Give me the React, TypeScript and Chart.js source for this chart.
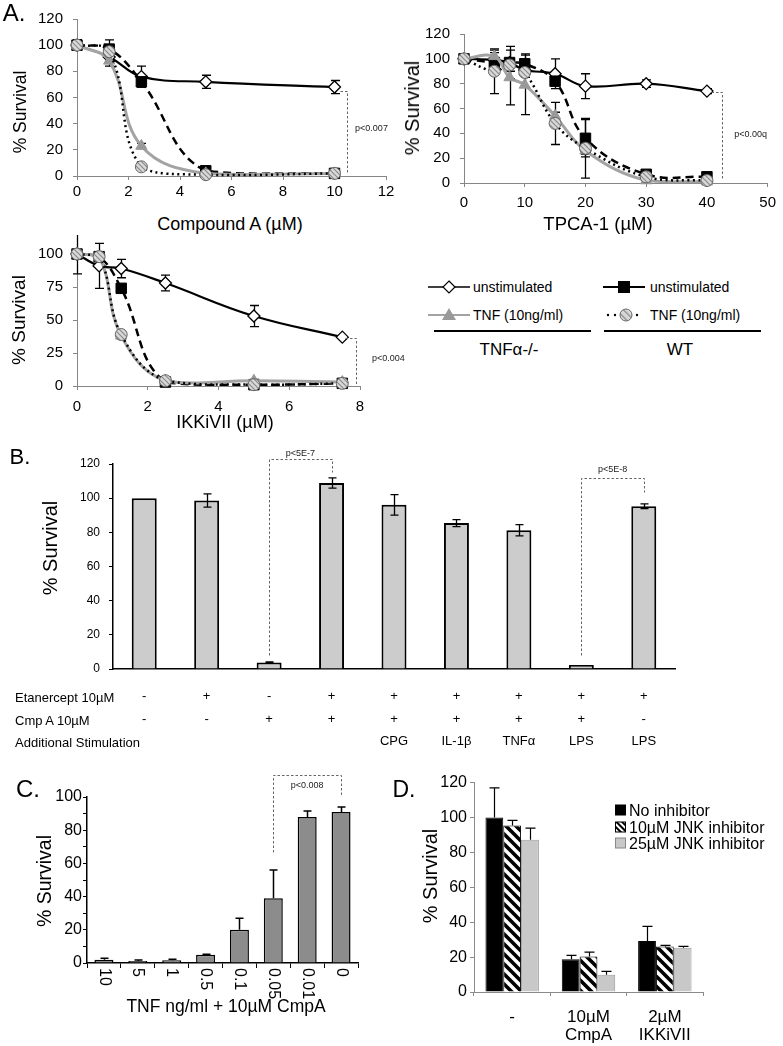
import React, { useEffect, useRef } from 'react';
import { Chart, registerables } from 'chart.js';

Chart.register(...registerables);

const FONT = "'Liberation Sans', Arial, Helvetica, sans-serif";
Chart.defaults.font.family = FONT;
Chart.defaults.color = '#000';

// ===== Panel A1: Compound A =====
const A1_DOSE = [0, 1.25, 2.5, 5, 10];
const A1_KO_UNSTIM = [100, 91, 76, 72, 68];
const A1_KO_UNSTIM_SD = [4, 3, 8, 5, 5];
const A1_KO_TNF = [100, 88, 23, 2, 2];
const A1_KO_TNF_SD = [3, 4, 2, 1, 1];
const A1_WT_UNSTIM = [100, 97, 72, 4, 2];
const A1_WT_UNSTIM_SD = [4, 7, 4, 1, 1];
const A1_WT_TNF = [100, 95, 7, 1, 2];
const A1_WT_TNF_SD = [3, 3, 2, 1, 1];

// ===== Panel A2: TPCA-1 =====
const A2_DOSE = [0, 5, 7.5, 10, 15, 20, 30, 40];
const A2_KO_UNSTIM = [100, 99, 97, 91, 88, 78, 80, 74];
const A2_KO_UNSTIM_SD = [2, 2, 3, 3, 12, 10, 3, 2];
const A2_KO_TNF = [100, 102, 85, 79, 54, 26, 2, 1];
const A2_KO_TNF_SD = [2, 3, 22, 24, 3, 3, 1, 1];
const A2_WT_UNSTIM = [100, 97, 97, 96, 82, 36, 7, 5];
const A2_WT_UNSTIM_SD = [2, 10, 13, 8, 3, 15, 2, 1];
const A2_WT_TNF = [100, 90, 95, 89, 48, 28, 5, 2];
const A2_WT_TNF_SD = [2, 18, 5, 4, 17, 24, 1, 1];

// ===== Panel A3: IKKiVII =====
const A3_DOSE = [0, 0.625, 1.25, 2.5, 5, 7.5];
const A3_KO_UNSTIM = [100, 91, 89, 78, 53, 37];
const A3_KO_UNSTIM_SD = [0, 17, 7, 6, 8, 1];
const A3_KO_TNF = [100, 98, 38, 4, 4, 3];
const A3_KO_TNF_SD = [2, 2, 2, 1, 1, 1];
const A3_WT_UNSTIM = [100, 98, 74, 3, 1, 2];
const A3_WT_UNSTIM_SD = [15, 2, 2, 1, 1, 1];
const A3_WT_TNF = [100, 98, 39, 4, 1, 2];
const A3_WT_TNF_SD = [2, 2, 2, 1, 1, 1];

// ===== Panel B =====
const B_SURVIVAL = [100, 98.6, 3.8, 108.9, 96.1, 85.4, 81.2, 2.3, 95.3];
const B_SD = [0, 3.9, 0.4, 3, 6, 2, 3.3, 0, 1.4];
const B_ETANERCEPT = ['-', '+', '-', '+', '+', '+', '+', '+', '+'];
const B_CMPA = ['-', '-', '+', '+', '+', '+', '+', '+', '-'];
const B_STIM = ['', '', '', '', 'CPG', 'IL-1β', 'TNFα', 'LPS', 'LPS'];
const B_ROWS = ['Etanercept 10µM', 'Cmp A 10µM', 'Additional Stimulation'];

// ===== Panel C =====
const C_TNF = ['10', '5', '1', '0.5', '0.1', '0.05', '0.01', '0'];
const C_SURVIVAL = [2, 1.2, 1.6, 5, 20, 39, 88, 91];
const C_SD = [0.8, 0.6, 0.7, 0.3, 7, 17, 3.6, 3];

// ===== Panel D =====
const D_GROUPS = [['-'], ['10µM', 'CmpA'], ['2µM', 'IKKiVII']];
const D_SERIES = ['No inhibitor', '10µM JNK inhibitor', '25µM JNK inhibitor'];
const D_NONE = [100, 18.7, 29.2];
const D_NONE_SD = [17, 2.3, 8.4];
const D_JNK10 = [95.4, 20.4, 26.1];
const D_JNK10_SD = [3, 2.5, 0.6];
const D_JNK25 = [87.2, 9.9, 25.4];
const D_JNK25_SD = [6.7, 1.9, 0.7];

type XY = [number, number];
interface Bracket { path: XY[]; at: XY; text: string; align?: CanvasTextAlign }

const A1_BRACKET: Bracket[] = [{ path: [[10.21, 65.3], [10.49, 65.3], [10.49, 3]], at: [10.8, 36], text: 'p<0.007', align: 'left' }];
const A2_BRACKET: Bracket[] = [{ path: [[40.7, 73.3], [42.4, 73.3], [42.4, 2.4]], at: [44.5, 38.7], text: 'p<0.00q', align: 'left' }];
const A3_BRACKET: Bracket[] = [{ path: [[7.58, 36.3], [7.89, 36.3], [7.89, 0]], at: [8.34, 20.7], text: 'p<0.004', align: 'left' }];
const B_BRACKETS: Bracket[] = [
  { path: [[2, 8.2], [2, 122.9], [3, 122.9], [3, 115.3]], at: [2.5, 126.4], text: 'p<5E-7' },
  { path: [[7, 8.2], [7, 111.8], [8, 111.8], [8, 103.6]], at: [7.5, 116.5], text: 'p<5E-8' },
];
const C_BRACKET: Bracket[] = [{ path: [[5, 66.9], [5, 113.3], [7, 113.3], [7, 101.2]], at: [6, 107.2], text: 'p<0.008' }];

// ---------- helpers ----------
function makeHatch(ctx: CanvasRenderingContext2D, size: number, bg: string, fg: string, lw: number) {
  const c = document.createElement('canvas');
  c.width = size; c.height = size;
  const g = c.getContext('2d')!;
  g.fillStyle = bg; g.fillRect(0, 0, size, size);
  g.strokeStyle = fg; g.lineWidth = lw;
  g.beginPath();
  g.moveTo(-size * 0.25, -size * 0.25); g.lineTo(size * 1.25, size * 1.25);
  g.moveTo(-size * 0.25, size * 0.75); g.lineTo(size * 0.25, size * 1.25);
  g.moveTo(size * 0.75, -size * 0.25); g.lineTo(size * 1.25, size * 0.25);
  g.stroke();
  return ctx.createPattern(c, 'repeat')!;
}

function errorBarsPlugin(o: { cap: number; width: number; upOnly?: boolean; before?: boolean }) {
  const draw = (chart: any) => {
    const ctx = chart.ctx;
    chart.data.datasets.forEach((ds: any, di: number) => {
      if (!ds.err) return;
      const meta = chart.getDatasetMeta(di);
      const ys = chart.scales[meta.yAxisID];
      ctx.save();
      ctx.strokeStyle = '#000';
      ctx.lineWidth = o.width;
      ctx.setLineDash([]);
      meta.data.forEach((el: any, i: number) => {
        const e = ds.err[i];
        if (!e) return;
        const raw = ds.data[i];
        const v = typeof raw === 'number' ? raw : raw.y;
        const x = Math.round(el.x) + 0.5;
        const yt = ys.getPixelForValue(v + e);
        const yb = ys.getPixelForValue(o.upOnly ? v : v - e);
        ctx.beginPath();
        ctx.moveTo(x, yb); ctx.lineTo(x, yt);
        ctx.moveTo(x - o.cap, yt); ctx.lineTo(x + o.cap, yt);
        if (!o.upOnly) { ctx.moveTo(x - o.cap, yb); ctx.lineTo(x + o.cap, yb); }
        ctx.stroke();
      });
      ctx.restore();
    });
  };
  return {
    id: 'errorBars',
    beforeDatasetsDraw(chart: any) { if (o.before) draw(chart); },
    afterDatasetsDraw(chart: any) { if (!o.before) draw(chart); },
  };
}

function bracketsPlugin(items: Bracket[]) {
  return {
    id: 'brackets',
    afterDraw(chart: any) {
      const ctx = chart.ctx;
      const xs = chart.scales.x, ys = chart.scales.y;
      items.forEach((b) => {
        ctx.save();
        ctx.strokeStyle = '#666';
        ctx.lineWidth = 1;
        ctx.setLineDash([2.5, 2]);
        ctx.beginPath();
        b.path.forEach(([x, y], k) => {
          const px = Math.round(xs.getPixelForValue(x)) + 0.5;
          const py = Math.round(ys.getPixelForValue(y)) + 0.5;
          if (k) ctx.lineTo(px, py); else ctx.moveTo(px, py);
        });
        ctx.stroke();
        ctx.setLineDash([]);
        ctx.fillStyle = '#222';
        ctx.font = `9px ${FONT}`;
        ctx.textAlign = b.align || 'center';
        ctx.textBaseline = 'middle';
        ctx.fillText(b.text, xs.getPixelForValue(b.at[0]), ys.getPixelForValue(b.at[1]));
        ctx.restore();
      });
    },
  };
}

function rotatedLabelsPlugin(labels: string[], size: number, gap: number) {
  return {
    id: 'rotLabels',
    afterDraw(chart: any) {
      const { ctx, chartArea } = chart;
      const xs = chart.scales.x;
      ctx.save();
      ctx.font = `${size}px ${FONT}`;
      ctx.fillStyle = '#000';
      ctx.textAlign = 'left';
      ctx.textBaseline = 'middle';
      labels.forEach((t, i) => {
        ctx.save();
        ctx.translate(xs.getPixelForValue(i), chartArea.bottom + gap);
        ctx.rotate(Math.PI / 2);
        ctx.fillText(t, 0, 0);
        ctx.restore();
      });
      ctx.restore();
    },
  };
}

const BASE_PLUGINS = { legend: { display: false }, tooltip: { enabled: false } };

// ---------- line charts (panel A) ----------
interface LineSeries { ys: number[]; sd: number[]; kind: 'koU' | 'koT' | 'wtU' | 'wtT' }

function lineConfig(ctx: CanvasRenderingContext2D, p: {
  xs: number[]; series: LineSeries[]; xMax: number; xStep: number; yMax: number; yStep: number;
  yW: number; T: number; R: number; xH: number; xPad: number; brackets: Bracket[];
}) {
  const hatch = makeHatch(ctx, 5, '#d9d9d9', '#8a8a8a', 1.2);
  const styles: Record<string, any> = {
    koU: { borderColor: '#000', borderWidth: 2.2, borderDash: [], pointStyle: 'rectRot', pointRadius: 6, pointBackgroundColor: '#fff', pointBorderColor: '#000', pointBorderWidth: 1.3, order: 4 },
    koT: { borderColor: '#a3a3a3', borderWidth: 3, borderDash: [], pointStyle: 'triangle', pointRadius: 6.5, pointBackgroundColor: '#999', pointBorderColor: '#999', pointBorderWidth: 1, order: 2 },
    wtU: { borderColor: '#000', borderWidth: 2.5, borderDash: [8, 5], pointStyle: 'rect', pointRadius: 7.4, pointBackgroundColor: '#000', pointBorderColor: '#000', pointBorderWidth: 1, order: 3 },
    wtT: { borderColor: '#000', borderWidth: 2.5, borderDash: [2, 3.5], pointStyle: 'circle', pointRadius: 6, pointBackgroundColor: hatch, pointBorderColor: '#666', pointBorderWidth: 1, order: 1 },
  };
  const axisColor = '#868686';
  return {
    type: 'line',
    data: {
      datasets: p.series.map((s) => ({
        data: p.xs.map((x, i) => ({ x, y: s.ys[i] })),
        err: s.sd,
        tension: 0.4,
        fill: false,
        clip: false,
        ...styles[s.kind],
      })),
    },
    options: {
      responsive: false,
      maintainAspectRatio: false,
      animation: false,
      events: [],
      layout: { padding: { left: 0, top: p.T, right: p.R, bottom: 0 } },
      plugins: BASE_PLUGINS,
      scales: {
        x: {
          type: 'linear', min: 0, max: p.xMax,
          ticks: { stepSize: p.xStep, font: { size: 15 }, color: '#000', padding: p.xPad, maxRotation: 0, autoSkip: false },
          grid: { drawOnChartArea: false, drawTicks: true, tickLength: 4, color: axisColor },
          border: { display: true, color: axisColor, width: 1 },
          afterFit: (s: any) => { s.height = p.xH; },
        },
        y: {
          type: 'linear', min: 0, max: p.yMax,
          ticks: { stepSize: p.yStep, font: { size: 15 }, color: '#000', padding: 10, autoSkip: false },
          grid: { drawOnChartArea: false, drawTicks: true, tickLength: 4, color: axisColor },
          border: { display: true, color: axisColor, width: 1 },
          afterFit: (s: any) => { s.width = p.yW; },
        },
      },
    },
    plugins: [errorBarsPlugin({ cap: 4.5, width: 1.3, before: true }), bracketsPlugin(p.brackets)],
  };
}

// ---------- bar charts ----------
function configB() {
  return {
    type: 'bar',
    data: {
      labels: B_ETANERCEPT.map((e, i) => [e, B_CMPA[i], B_STIM[i]]),
      datasets: [{
        data: B_SURVIVAL, err: B_SD,
        backgroundColor: '#cccccc', borderColor: '#000', borderWidth: 2,
        categoryPercentage: 1, barPercentage: 0.4,
      }],
    },
    options: {
      responsive: false, maintainAspectRatio: false, animation: false, events: [],
      layout: { padding: { left: 0, top: 24, right: 25, bottom: 0 } },
      plugins: BASE_PLUGINS,
      scales: {
        x: {
          ticks: { font: { size: 13, lineHeight: 1.73 }, color: '#000', padding: 16.5, maxRotation: 0, minRotation: 0, autoSkip: false },
          grid: { display: false, drawTicks: false },
          border: { display: true, color: '#000', width: 1.5 },
          afterFit: (s: any) => { s.height = 91; },
        },
        y: {
          min: 0, max: 120,
          ticks: { stepSize: 20, font: { size: 12 }, color: '#000', padding: 9, autoSkip: false },
          grid: { drawOnChartArea: false, drawTicks: true, tickLength: 4, color: '#000' },
          border: { display: true, color: '#000', width: 1.5 },
          afterFit: (s: any) => { s.width = 113; },
        },
      },
    },
    plugins: [errorBarsPlugin({ cap: 4, width: 1.3 }), bracketsPlugin(B_BRACKETS)],
  };
}

function configC() {
  return {
    type: 'bar',
    data: {
      labels: C_TNF,
      datasets: [{
        data: C_SURVIVAL, err: C_SD,
        backgroundColor: '#8c8c8c', borderColor: '#000', borderWidth: 1.5,
        categoryPercentage: 1, barPercentage: 0.56,
      }],
    },
    options: {
      responsive: false, maintainAspectRatio: false, animation: false, events: [],
      layout: { padding: { left: 0, top: 37, right: 22, bottom: 0 } },
      plugins: BASE_PLUGINS,
      scales: {
        x: {
          ticks: { display: false },
          grid: { drawOnChartArea: false, drawTicks: true, tickLength: 5, color: '#000', offset: true },
          border: { display: true, color: '#000', width: 1.5 },
          afterFit: (s: any) => { s.height = 83; },
        },
        y: {
          min: 0, max: 100,
          ticks: { stepSize: 10, font: { size: 16 }, color: '#000', padding: 1, autoSkip: false, callback: (v: any) => (v % 20 === 0 ? v : '') },
          grid: { drawOnChartArea: false, drawTicks: true, tickLength: 4, color: '#000' },
          border: { display: true, color: '#000', width: 1.5 },
          afterFit: (s: any) => { s.width = 87; },
        },
      },
    },
    plugins: [errorBarsPlugin({ cap: 4, width: 1.5, upOnly: true }), bracketsPlugin(C_BRACKET), rotatedLabelsPlugin(C_TNF, 16, 5)],
  };
}

function configD(ctx: CanvasRenderingContext2D) {
  const hatch = makeHatch(ctx, 10, '#ffffff', '#000000', 3.6);
  const fills = ['#000000', hatch, '#c8c8c8'];
  const borders = ['#000000', '#000000', '#9a9a9a'];
  const values = [D_NONE, D_JNK10, D_JNK25];
  const sds = [D_NONE_SD, D_JNK10_SD, D_JNK25_SD];
  return {
    type: 'bar',
    data: {
      labels: D_GROUPS,
      datasets: D_SERIES.map((label, k) => ({
        label, data: values[k], err: sds[k],
        backgroundColor: fills[k], borderColor: borders[k], borderWidth: 1,
        categoryPercentage: 0.7, barPercentage: 1,
      })),
    },
    options: {
      responsive: false, maintainAspectRatio: false, animation: false, events: [],
      layout: { padding: { left: 0, top: 12, right: 80, bottom: 0 } },
      plugins: BASE_PLUGINS,
      scales: {
        x: {
          ticks: { font: { size: 17, lineHeight: 1.06 }, color: '#000', padding: 12, maxRotation: 0, autoSkip: false },
          grid: { drawOnChartArea: false, drawTicks: true, tickLength: 4, color: '#8a8a8a', offset: true },
          border: { display: true, color: '#8a8a8a', width: 1 },
          afterFit: (s: any) => { s.height = 54; },
        },
        y: {
          min: 0, max: 120,
          ticks: { stepSize: 20, font: { size: 16 }, color: '#000', padding: 3, autoSkip: false },
          grid: { drawOnChartArea: false, drawTicks: true, tickLength: 4, color: '#8a8a8a' },
          border: { display: true, color: '#8a8a8a', width: 1 },
          afterFit: (s: any) => { s.width = 74; },
        },
      },
    },
    plugins: [errorBarsPlugin({ cap: 5, width: 1.2, upOnly: true })],
  };
}

// ---------- components ----------
function ChartBox({ left, top, width, height, make }: { left: number; top: number; width: number; height: number; make: (ctx: CanvasRenderingContext2D) => any }) {
  const ref = useRef<HTMLCanvasElement>(null);
  useEffect(() => {
    const canvas = ref.current!;
    const chart = new Chart(canvas, make(canvas.getContext('2d')!));
    return () => chart.destroy();
  }, []);
  return <canvas ref={ref} width={width} height={height} style={{ position: 'absolute', left, top, width, height }} />;
}

function Txt({ x, y, size, children, rotate, left }: { x: number; y: number; size: number; children: React.ReactNode; rotate?: boolean; left?: boolean }) {
  const tx = left ? '0' : '-50%';
  return (
    <div style={{
      position: 'absolute', left: x, top: y,
      transform: `translate(${tx}, -50%)${rotate ? ' rotate(-90deg)' : ''}`,
      fontSize: size, fontFamily: FONT, lineHeight: 1, whiteSpace: 'nowrap', color: '#000',
    }}>{children}</div>
  );
}

function LegendA() {
  const tf = { fontFamily: FONT, fontSize: 14, fill: '#000' } as any;
  return (
    <svg width={363} height={95} style={{ position: 'absolute', left: 420, top: 270 }}>
      <defs>
        <pattern id="hatchA" width="5" height="5" patternUnits="userSpaceOnUse" patternTransform="rotate(-45)">
          <rect width="5" height="5" fill="#d9d9d9" />
          <rect width="1.3" height="5" fill="#8a8a8a" />
        </pattern>
      </defs>
      <line x1={8} y1={17} x2={50} y2={17} stroke="#000" strokeWidth={1.6} />
      <path d="M29,11 L35,17 L29,23 L23,17 Z" fill="#fff" stroke="#000" strokeWidth={1.2} />
      <text x={53} y={17} dominantBaseline="central" style={tf}>unstimulated</text>
      <line x1={8} y1={45} x2={50} y2={45} stroke="#a3a3a3" strokeWidth={2.2} />
      <path d="M29,38 L36,50 L22,50 Z" fill="#999" />
      <text x={53} y={45} dominantBaseline="central" style={tf}>TNF (10ng/ml)</text>
      <line x1={14} y1={61} x2={171} y2={61} stroke="#000" strokeWidth={2} />
      <text x={89} y={79} textAnchor="middle" dominantBaseline="central" style={{ ...tf, fontSize: 17 }}>TNFα-/-</text>

      <line x1={183} y1={17} x2={225} y2={17} stroke="#000" strokeWidth={2} />
      <rect x={198} y={11} width={12} height={12} fill="#000" />
      <text x={230} y={17} dominantBaseline="central" style={tf}>unstimulated</text>
      <circle cx={188} cy={45} r={1.2} fill="#000" />
      <circle cx={195} cy={45} r={1.2} fill="#000" />
      <circle cx={217} cy={45} r={1.2} fill="#000" />
      <circle cx={206} cy={45} r={6} fill="url(#hatchA)" stroke="#666" strokeWidth={1} />
      <text x={230} y={45} dominantBaseline="central" style={tf}>TNF (10ng/ml)</text>
      <line x1={184} y1={61} x2={341} y2={61} stroke="#000" strokeWidth={2} />
      <text x={260} y={79} textAnchor="middle" dominantBaseline="central" style={{ ...tf, fontSize: 17 }}>WT</text>
    </svg>
  );
}

function LegendD() {
  const tf = { fontFamily: FONT, fontSize: 16, fill: '#000' } as any;
  const rows = [10, 27, 43];
  return (
    <svg width={173} height={55} style={{ position: 'absolute', left: 610, top: 800 }}>
      <defs>
        <pattern id="hatchD" width="4" height="4" patternUnits="userSpaceOnUse" patternTransform="rotate(-45)">
          <rect width="4" height="4" fill="#fff" />
          <rect width="2" height="4" fill="#000" />
        </pattern>
      </defs>
      <rect x={5} y={rows[0] - 5.5} width={11} height={11} fill="#000" />
      <rect x={5.5} y={rows[1] - 5} width={10} height={10} fill="url(#hatchD)" stroke="#000" strokeWidth={1} />
      <rect x={5.5} y={rows[2] - 5} width={10} height={10} fill="#c8c8c8" stroke="#888" strokeWidth={1} />
      {D_SERIES.map((s, i) => (
        <text key={s} x={19} y={rows[i]} dominantBaseline="central" style={tf}>{s}</text>
      ))}
    </svg>
  );
}

export default function App() {
  return (
    <div style={{ position: 'absolute', left: 0, top: 0, width: 783, height: 1046, background: '#fff', overflow: 'hidden' }}>
      <ChartBox left={0} top={0} width={400} height={210} make={(ctx) => lineConfig(ctx, {
        xs: A1_DOSE,
        series: [
          { ys: A1_KO_UNSTIM, sd: A1_KO_UNSTIM_SD, kind: 'koU' },
          { ys: A1_KO_TNF, sd: A1_KO_TNF_SD, kind: 'koT' },
          { ys: A1_WT_UNSTIM, sd: A1_WT_UNSTIM_SD, kind: 'wtU' },
          { ys: A1_WT_TNF, sd: A1_WT_TNF_SD, kind: 'wtT' },
        ],
        xMax: 12, xStep: 2, yMax: 120, yStep: 20, yW: 77, T: 16, R: 14, xH: 34, xPad: 3, brackets: A1_BRACKET,
      })} />
      <ChartBox left={400} top={0} width={383} height={215} make={(ctx) => lineConfig(ctx, {
        xs: A2_DOSE,
        series: [
          { ys: A2_KO_UNSTIM, sd: A2_KO_UNSTIM_SD, kind: 'koU' },
          { ys: A2_KO_TNF, sd: A2_KO_TNF_SD, kind: 'koT' },
          { ys: A2_WT_UNSTIM, sd: A2_WT_UNSTIM_SD, kind: 'wtU' },
          { ys: A2_WT_TNF, sd: A2_WT_TNF_SD, kind: 'wtT' },
        ],
        xMax: 50, xStep: 10, yMax: 120, yStep: 20, yW: 64, T: 34, R: 11, xH: 32, xPad: 7, brackets: A2_BRACKET,
      })} />
      <ChartBox left={0} top={235} width={420} height={190} make={(ctx) => lineConfig(ctx, {
        xs: A3_DOSE,
        series: [
          { ys: A3_KO_UNSTIM, sd: A3_KO_UNSTIM_SD, kind: 'koU' },
          { ys: A3_KO_TNF, sd: A3_KO_TNF_SD, kind: 'koT' },
          { ys: A3_WT_UNSTIM, sd: A3_WT_UNSTIM_SD, kind: 'wtU' },
          { ys: A3_WT_TNF, sd: A3_WT_TNF_SD, kind: 'wtT' },
        ],
        xMax: 8, xStep: 2, yMax: 100, yStep: 25, yW: 77, T: 16, R: 60, xH: 39, xPad: 8, brackets: A3_BRACKET,
      })} />
      <ChartBox left={0} top={440} width={700} height={320} make={() => configB()} />
      <ChartBox left={0} top={760} width={380} height={286} make={() => configC()} />
      <ChartBox left={400} top={770} width={383} height={276} make={(ctx) => configD(ctx)} />

      {/* panel letters */}
      <Txt x={14} y={13} size={24}>A.</Txt>
      <Txt x={20} y={457} size={22}>B.</Txt>
      <Txt x={28} y={789} size={24}>C.</Txt>
      <Txt x={404} y={789} size={23}>D.</Txt>

      {/* axis titles A */}
      <Txt x={21} y={112} size={17.5} rotate>% Survival</Txt>
      <Txt x={230} y={224} size={18}>Compound A (µM)</Txt>
      <Txt x={412} y={108} size={20} rotate>% Survival</Txt>
      <Txt x={598} y={224} size={18.5}>TPCA-1 (µM)</Txt>
      <Txt x={18} y={320} size={19} rotate>% Survival</Txt>
      <Txt x={225} y={422} size={18}>IKKiVII (µM)</Txt>

      <LegendA />

      {/* B */}
      <Txt x={50} y={548} size={20} rotate>% Survival</Txt>
      {B_ROWS.map((r, i) => (
        <Txt key={r} x={15} y={697 + i * 22.5} size={13} left>{r}</Txt>
      ))}

      {/* C */}
      <Txt x={45} y={881} size={19.5} rotate>% Survival</Txt>
      <Txt x={226} y={1007} size={17.5}>TNF ng/ml + 10µM CmpA</Txt>

      {/* D */}
      <Txt x={430} y={876} size={20} rotate>% Survival</Txt>
      <LegendD />
    </div>
  );
}
